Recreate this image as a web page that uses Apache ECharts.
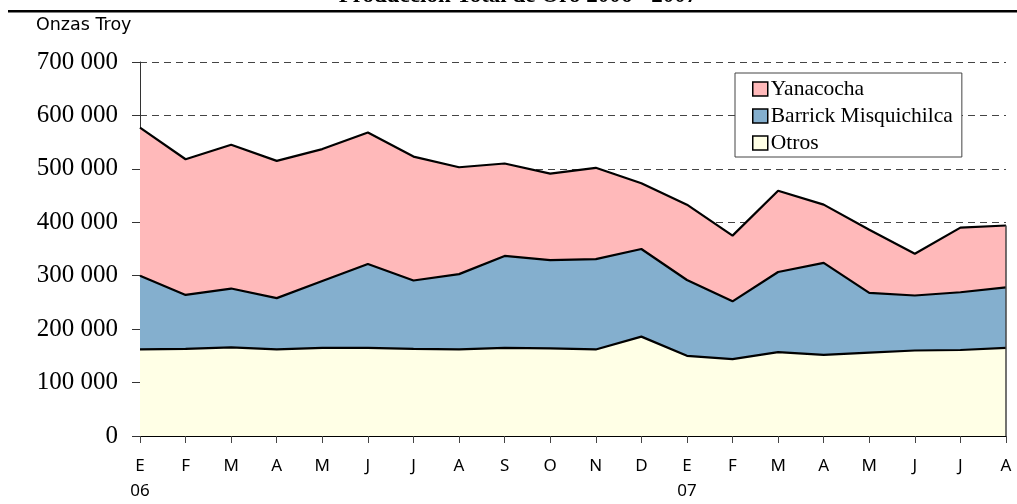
<!DOCTYPE html>
<html>
<head>
<meta charset="utf-8">
<script src="https://cdn.jsdelivr.net/npm/echarts@6/dist/echarts.min.js"></script>
<style>
  html, body { margin: 0; padding: 0; background: #fff; }
  #chart { width: 1017px; height: 504px; }
</style>
</head>
<body>
<div id="chart"></div>
<script>
// meses ene-2006 .. ago-2007
const months = ['E\n06', 'F', 'M', 'A', 'M', 'J', 'J', 'A', 'S', 'O', 'N', 'D',
  'E\n07', 'F', 'M', 'A', 'M', 'J', 'J', 'A'];

// onzas troy
const otros = [162000, 163000, 166000, 162000, 165000, 165000, 163000, 162000, 165000, 164000,
  162000, 186000, 150000, 144000, 157000, 152000, 156000, 160000, 161000, 165000];
const barrick = [138000, 101000, 110000, 96000, 125000, 157000, 128000, 141000, 172000, 165000,
  169000, 164000, 142000, 108000, 150000, 172000, 112000, 103000, 108000, 113000];
const yanacocha = [277000, 254000, 269000, 257000, 247000, 246000, 232000, 200000, 173000, 162000,
  171000, 123000, 141000, 123000, 152000, 109000, 118000, 78000, 121000, 116000];

const yTicks = [0, 100000, 200000, 300000, 400000, 500000, 600000, 700000];

const chart = echarts.init(document.getElementById('chart'));

function fmt(v) {
  return String(v).replace(/\B(?=(\d{3})+(?!\d))/g, ' ');
}

function areaSeries(name, data, color, z) {
  return {
    name: name,
    type: 'line',
    stack: 'total',
    data: data,
    z: z,
    symbol: 'none',
    lineStyle: { color: '#000', width: 2.2 },
    areaStyle: { color: color, opacity: 1 },
    itemStyle: { color: color, borderColor: '#000', borderWidth: 1.5 },
    emphasis: { disabled: true }
  };
}

const option = {
  animation: false,
  grid: { left: 140, right: 11, top: 62, bottom: 68 },
  graphic: [
    {
      type: 'text', id: 'title', x: 518, y: 8,
      style: {
        text: 'Producción Total de Oro 2006 - 2007',
        fontFamily: 'Liberation Serif', fontSize: 23, fontWeight: 'bold',
        fill: '#000', align: 'center', verticalAlign: 'bottom'
      }
    },
    { type: 'rect', id: 'rule', shape: { x: 8, y: 10, width: 1009, height: 2.5 }, style: { fill: '#000' } },
    {
      type: 'text', id: 'unit', x: 36, y: 16,
      style: { text: 'Onzas Troy', fontFamily: 'DejaVu Sans', fontSize: 17.5, fill: '#000' }
    }
  ],
  legend: {
    data: ['Yanacocha', 'Barrick Misquichilca', 'Otros'],
    orient: 'vertical',
    left: 735, top: 73,
    padding: [5, 9, 3, 17],
    backgroundColor: '#fff',
    borderColor: '#444',
    borderWidth: 1,
    itemWidth: 15, itemHeight: 14, itemGap: 5,
    icon: 'rect',
    itemStyle: { borderColor: '#000', borderWidth: 1.5 },
    textStyle: { fontFamily: 'Liberation Serif', fontSize: 21.5, color: '#000', lineHeight: 22, padding: [0, 0, 0, -2] }
  },
  xAxis: {
    type: 'category',
    data: months,
    boundaryGap: false,
    axisLine: { lineStyle: { color: '#000', width: 1 } },
    axisTick: { length: 7, lineStyle: { color: '#444' }, interval: 0 },
    axisLabel: {
      interval: 0, margin: 18, color: '#000',
      fontFamily: 'Noto Sans', fontSize: 17, lineHeight: 25
    },
    splitLine: { show: false }
  },
  yAxis: {
    type: 'value',
    min: yTicks[0], max: yTicks[yTicks.length - 1], interval: 100000,
    axisLine: { show: true, lineStyle: { color: '#333', width: 1 } },
    axisTick: { show: true, length: 8, lineStyle: { color: '#333' } },
    axisLabel: {
      margin: 22, color: '#000', fontFamily: 'Liberation Serif', fontSize: 25,
      formatter: fmt
    },
    splitLine: { show: true, lineStyle: { color: '#444', type: [7, 5], width: 1 } }
  },
  series: [
    areaSeries('Otros', otros, '#FFFFE6', 5),
    areaSeries('Barrick Misquichilca', barrick, '#84AFCE', 4),
    areaSeries('Yanacocha', yanacocha, '#FFB9BA', 3)
  ]
};

chart.setOption(option);

// borde derecho del área (como en Excel)
const last = months.length - 1;
const totalLast = otros[last] + barrick[last] + yanacocha[last];
const pTop = chart.convertToPixel({ xAxisIndex: 0, yAxisIndex: 0 }, [last, totalLast]);
const pBot = chart.convertToPixel({ xAxisIndex: 0, yAxisIndex: 0 }, [last, 0]);
chart.setOption({
  graphic: [
    {
      type: 'line', id: 'rightEdge', z: 10,
      shape: { x1: pTop[0], y1: pTop[1], x2: pBot[0], y2: pBot[1] },
      style: { stroke: '#444', lineWidth: 1.5 }
    }
  ]
});

window.addEventListener('resize', function () {
  chart.resize();
});
</script>
</body>
</html>
